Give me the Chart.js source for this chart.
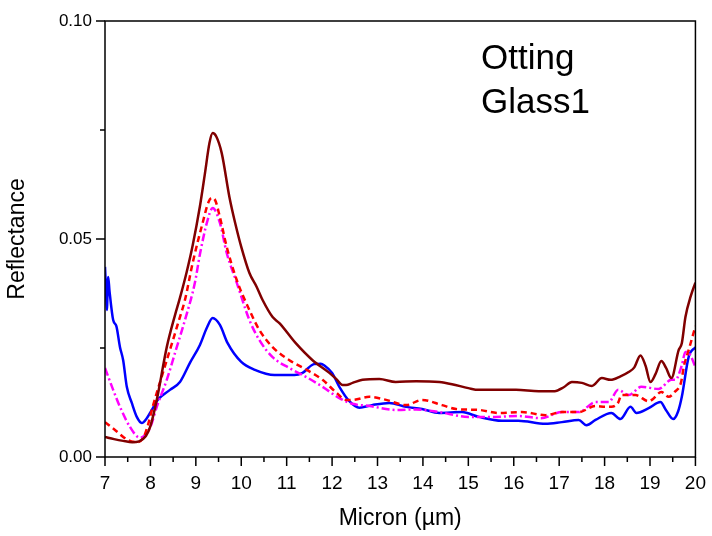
<!DOCTYPE html>
<html lang="en">
<head>
    <meta charset="UTF-8">
    <title>Otting Glass1 Reflectance</title>
    <script src="https://cdn.jsdelivr.net/npm/chart.js@4.4.1/dist/chart.umd.min.js"></script>
    <style>
        body { margin: 0; background: #fff; }
        #wrap { width: 712px; height: 536px; position: relative; }
    </style>
</head>
<body>
    <div id="wrap"><canvas id="chart" width="712" height="536"></canvas></div>

    <script>
        // series (micron, reflectance)
        const darkRedX = [7.0, 7.2, 7.4, 7.6, 7.75, 7.9, 8.0, 8.14, 8.36, 8.54, 8.65, 8.8, 8.93, 9.09, 9.2, 9.3, 9.37, 9.45, 9.57, 9.74, 9.87, 10.0, 10.18, 10.34, 10.47, 10.69, 10.84, 11.2, 11.57, 11.94, 12.1, 12.23, 12.31, 12.45, 12.67, 13.04, 13.4, 13.85, 14.36, 14.64, 15.0, 15.23, 15.6, 16.05, 16.55, 16.9, 17.1, 17.28, 17.5, 17.72, 17.94, 18.13, 18.35, 18.53, 18.65, 18.79, 18.9, 19.01, 19.12, 19.25, 19.35, 19.47, 19.63, 19.7, 19.78, 19.9, 20.0];
        const darkRedY = [0.0046, 0.0041, 0.0037, 0.0034, 0.0036, 0.0048, 0.0071, 0.0131, 0.0252, 0.0325, 0.0365, 0.0425, 0.0485, 0.0575, 0.065, 0.072, 0.0743, 0.0735, 0.0697, 0.0596, 0.0535, 0.0482, 0.0422, 0.039, 0.036, 0.0321, 0.0307, 0.0261, 0.0222, 0.0193, 0.0178, 0.0165, 0.0165, 0.017, 0.0177, 0.0179, 0.0172, 0.0174, 0.0172, 0.0167, 0.0158, 0.0154, 0.0154, 0.0154, 0.0151, 0.0151, 0.016, 0.0172, 0.017, 0.0163, 0.0181, 0.0177, 0.0185, 0.0195, 0.0205, 0.0233, 0.021, 0.0172, 0.019, 0.022, 0.0205, 0.0181, 0.0245, 0.0261, 0.0321, 0.037, 0.040];

        const redX = [7.0, 7.22, 7.5, 7.72, 7.85, 7.95, 8.05, 8.36, 8.65, 8.76, 8.93, 9.15, 9.28, 9.35, 9.42, 9.53, 9.68, 9.9, 10.18, 10.4, 10.69, 11.06, 11.44, 11.79, 12.1, 12.31, 12.45, 12.82, 13.19, 13.63, 13.98, 14.42, 14.73, 15.23, 15.67, 16.18, 16.7, 17.06, 17.43, 17.8, 18.02, 18.15, 18.3, 18.37, 18.68, 18.97, 19.04, 19.25, 19.41, 19.55, 19.68, 19.75, 19.85, 20.0];
        const redY = [0.008, 0.0062, 0.0039, 0.0034, 0.0045, 0.0075, 0.0115, 0.0222, 0.0321, 0.036, 0.0445, 0.0537, 0.0585, 0.0594, 0.059, 0.055, 0.0482, 0.0406, 0.0337, 0.0291, 0.0252, 0.0222, 0.020, 0.0177, 0.0147, 0.0131, 0.0131, 0.0138, 0.0131, 0.0119, 0.0131, 0.0119, 0.011, 0.0108, 0.0101, 0.0103, 0.0096, 0.0103, 0.0103, 0.0117, 0.0115, 0.0115, 0.0125, 0.0142, 0.0142, 0.0128, 0.0131, 0.0149, 0.0138, 0.015, 0.017, 0.021, 0.0245, 0.030];

        const magentaX = [7.0, 7.18, 7.33, 7.55, 7.77, 7.88, 8.0, 8.14, 8.36, 8.58, 8.76, 8.98, 9.09, 9.25, 9.37, 9.53, 9.68, 9.9, 10.18, 10.4, 10.69, 11.06, 11.44, 11.79, 12.16, 12.45, 12.82, 13.41, 13.85, 14.36, 15.0, 15.6, 16.1, 16.6, 17.06, 17.43, 17.8, 18.09, 18.3, 18.53, 18.81, 19.19, 19.47, 19.56, 19.7, 19.78, 19.88, 20.0];
        const magentaY = [0.0204, 0.0154, 0.0115, 0.0069, 0.0044, 0.005, 0.0069, 0.0115, 0.0177, 0.0252, 0.0314, 0.040, 0.0465, 0.054, 0.0571, 0.0537, 0.0468, 0.040, 0.0314, 0.0268, 0.0229, 0.0204, 0.0183, 0.0161, 0.0135, 0.0122, 0.0117, 0.0108, 0.0109, 0.0103, 0.0092, 0.0092, 0.0094, 0.0089, 0.0103, 0.0103, 0.0126, 0.0126, 0.0154, 0.0142, 0.0161, 0.0156, 0.0177, 0.0177, 0.021, 0.0241, 0.0235, 0.0206];

        const blueX = [7.0, 7.02, 7.04, 7.07, 7.1, 7.18, 7.25, 7.33, 7.4, 7.48, 7.59, 7.7, 7.81, 7.92, 8.03, 8.16, 8.43, 8.65, 8.87, 9.09, 9.24, 9.37, 9.53, 9.7, 10.0, 10.3, 10.73, 11.17, 11.35, 11.6, 11.75, 11.83, 12.0, 12.16, 12.38, 12.6, 12.88, 13.26, 13.63, 13.98, 14.36, 14.86, 15.23, 15.74, 16.1, 16.7, 17.06, 17.43, 17.6, 17.8, 18.15, 18.35, 18.57, 18.7, 18.97, 19.23, 19.35, 19.51, 19.62, 19.7, 19.85, 20.0];
        const blueY = [0.0436, 0.039, 0.0337, 0.0413, 0.038, 0.0314, 0.030, 0.0252, 0.0222, 0.0161, 0.0124, 0.0092, 0.0078, 0.0089, 0.0108, 0.0131, 0.0154, 0.0172, 0.0216, 0.0257, 0.0296, 0.0319, 0.0303, 0.0261, 0.0218, 0.020, 0.0188, 0.0188, 0.0193, 0.0213, 0.0214, 0.021, 0.0193, 0.0161, 0.0128, 0.0113, 0.0119, 0.0124, 0.0115, 0.011, 0.0101, 0.0103, 0.0092, 0.0083, 0.0083, 0.0076, 0.008, 0.0085, 0.0073, 0.0085, 0.0101, 0.0087, 0.0115, 0.0101, 0.0112, 0.0126, 0.0108, 0.0087, 0.0105, 0.0138, 0.0229, 0.0252];

        const xTickLabels = [7, 8, 9, 10, 11, 12, 13, 14, 15, 16, 17, 18, 19, 20];
        const yTickLabels = ['0.00', '0.05', '0.10'];
        const titleLines = ['Otting', 'Glass1'];

        const FONT = "'Liberation Sans', Arial, sans-serif";
        const NARROW = "'Liberation Sans Narrow', 'Arial Narrow', 'Liberation Sans', sans-serif";

        function pts(xs, ys) {
            return xs.map((x, i) => ({ x: x, y: ys[i] }));
        }

        function isMajor(v, step) {
            return Math.abs(v / step - Math.round(v / step)) < 1e-6;
        }

        // frame, tick marks and the sample label
        const framePlugin = {
            id: 'frame',
            afterDraw(chart) {
                const c = chart.ctx;
                const a = chart.chartArea;
                const xs = chart.scales.x;
                const ys = chart.scales.y;
                c.save();
                c.strokeStyle = '#000';
                c.lineWidth = 1.5;
                c.strokeRect(a.left, a.top, a.right - a.left, a.bottom - a.top);
                c.beginPath();
                xs.ticks.forEach(t => {
                    const px = xs.getPixelForValue(t.value);
                    const len = isMajor(t.value, 1) ? 9 : 5;
                    c.moveTo(px, a.bottom);
                    c.lineTo(px, a.bottom + len);
                });
                ys.ticks.forEach(t => {
                    const py = ys.getPixelForValue(t.value);
                    const len = isMajor(t.value, 0.05) ? 9 : 5;
                    c.moveTo(a.left, py);
                    c.lineTo(a.left - len, py);
                });
                c.stroke();

                c.fillStyle = '#000';
                c.font = '35px ' + FONT;
                c.textAlign = 'left';
                c.textBaseline = 'alphabetic';
                c.fillText(titleLines[0], 481, 69);
                c.fillText(titleLines[1], 481, 113);
                c.restore();
            }
        };

        const lineBase = {
            fill: false,
            pointRadius: 0,
            borderWidth: 2.5,
            tension: 0.4,
            cubicInterpolationMode: 'monotone'
        };

        new Chart(document.getElementById('chart'), {
            type: 'line',
            data: {
                datasets: [
                    Object.assign({ label: 'a', data: pts(darkRedX, darkRedY), borderColor: '#800000' }, lineBase),
                    Object.assign({ label: 'b', data: pts(redX, redY), borderColor: '#ff0000', borderDash: [6, 4] }, lineBase),
                    Object.assign({ label: 'c', data: pts(magentaX, magentaY), borderColor: '#ff00ff', borderDash: [8, 3, 2, 3] }, lineBase),
                    Object.assign({ label: 'd', data: pts(blueX, blueY), borderColor: '#0000ff' }, lineBase)
                ]
            },
            options: {
                responsive: false,
                animation: false,
                layout: { padding: { left: 0, right: 15, top: 21, bottom: 0 } },
                plugins: {
                    legend: { display: false },
                    tooltip: { enabled: false }
                },
                scales: {
                    x: {
                        type: 'linear',
                        min: 7,
                        max: 20,
                        grid: { display: true, drawOnChartArea: false, tickLength: 9, tickColor: 'rgba(0,0,0,0)' },
                        border: { display: false },
                        ticks: {
                            stepSize: 0.5,
                            autoSkip: false,
                            maxRotation: 0,
                            padding: 6,
                            color: '#000',
                            font: { family: NARROW, size: 19 },
                            callback: v => xTickLabels.includes(v) ? String(v) : ''
                        },
                        title: {
                            display: true,
                            text: 'Micron (µm)',
                            color: '#000',
                            font: { family: NARROW, size: 23 },
                            padding: { top: 10 }
                        },
                        afterFit: s => { s.height = 79; }
                    },
                    y: {
                        min: 0,
                        max: 0.10,
                        grid: { display: true, drawOnChartArea: false, tickLength: 9, tickColor: 'rgba(0,0,0,0)' },
                        border: { display: false },
                        ticks: {
                            stepSize: 0.025,
                            autoSkip: false,
                            padding: 4,
                            color: '#000',
                            font: { family: NARROW, size: 17 },
                            callback: v => {
                                const s = v.toFixed(2);
                                return isMajor(v, 0.05) && yTickLabels.includes(s) ? s : '';
                            }
                        },
                        title: {
                            display: true,
                            text: 'Reflectance',
                            color: '#000',
                            font: { family: NARROW, size: 23 },
                            padding: { bottom: 12 }
                        },
                        afterFit: s => { s.width = 105; }
                    }
                }
            },
            plugins: [framePlugin]
        });
    </script>
</body>
</html>
